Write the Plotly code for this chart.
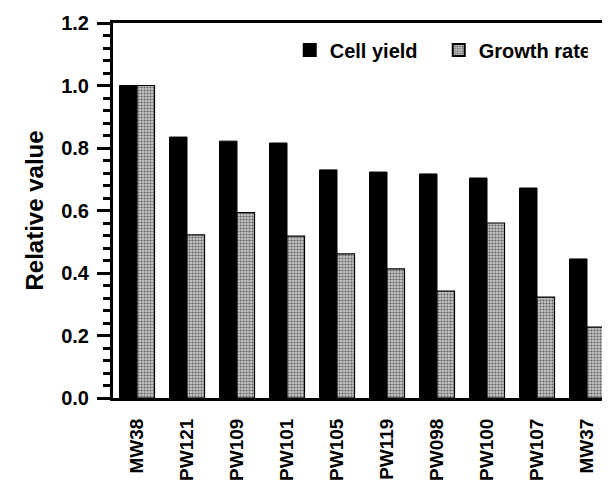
import plotly.graph_objects as go

strains = ["MW38", "PW121", "PW109", "PW101", "PW105", "PW119", "PW098", "PW100", "PW107", "MW37"]
cell_yield = [1.0, 0.835, 0.822, 0.816, 0.73, 0.723, 0.717, 0.704, 0.672, 0.445]
growth_rate = [1.0, 0.522, 0.593, 0.518, 0.461, 0.413, 0.342, 0.56, 0.323, 0.227]

FONT = "Liberation Sans, Arial, Helvetica, sans-serif"

fig = go.Figure()
fig.add_trace(go.Bar(
    x=strains, y=cell_yield, name="Cell yield",
    marker=dict(color="black", line=dict(color="black", width=1)),
))
fig.add_trace(go.Bar(
    x=strains, y=growth_rate, name="Growth rate",
    marker=dict(color="#c4c4c4", line=dict(color="black", width=1.2),
                pattern=dict(shape=".", fillmode="replace", bgcolor="#c6c6c6",
                             fgcolor="#606060", size=3, solidity=0.4)),
))

# page body adds an 8px offset, so margins are reduced accordingly
fig.update_layout(
    width=610, height=484,
    margin=dict(l=105, r=0, t=15, b=94, autoexpand=False),
    paper_bgcolor="white", plot_bgcolor="white",
    barmode="group", bargap=0.3, bargroupgap=0,
    showlegend=True,
    legend=dict(orientation="h", x=0.350, xanchor="left",
                y=0.928, yanchor="middle", bgcolor="rgba(0,0,0,0)",
                font=dict(family=FONT, size=20, color="black", weight="bold"),
                entrywidth=104, itemsizing="constant"),
    font=dict(family=FONT, color="black"),
)
fig.update_xaxes(
    type="category", range=[-0.48, 9.62], automargin=False,
    showline=True, linecolor="black", linewidth=3, mirror=True,
    ticks="", showgrid=False, zeroline=False,
    tickangle=-90, ticklabelstandoff=10,
    tickfont=dict(family=FONT, size=19, color="black", weight="bold"),
)
fig.update_yaxes(
    range=[0, 1.2], dtick=0.2, tick0=0, tickformat=".1f", automargin=False,
    showline=True, linecolor="black", linewidth=3,
    ticks="outside", ticklen=13, tickwidth=2.5, tickcolor="black",
    minor=dict(ticks="outside", ticklen=7, tickwidth=2.5, tickcolor="black", dtick=0.04),
    showgrid=False, zeroline=False, ticklabelstandoff=4,
    tickfont=dict(family=FONT, size=20, color="black", weight="bold"),
    title=dict(text="Relative value", standoff=11,
               font=dict(family=FONT, size=24, color="black", weight="bold")),
)

fig.write_html("out.html")
